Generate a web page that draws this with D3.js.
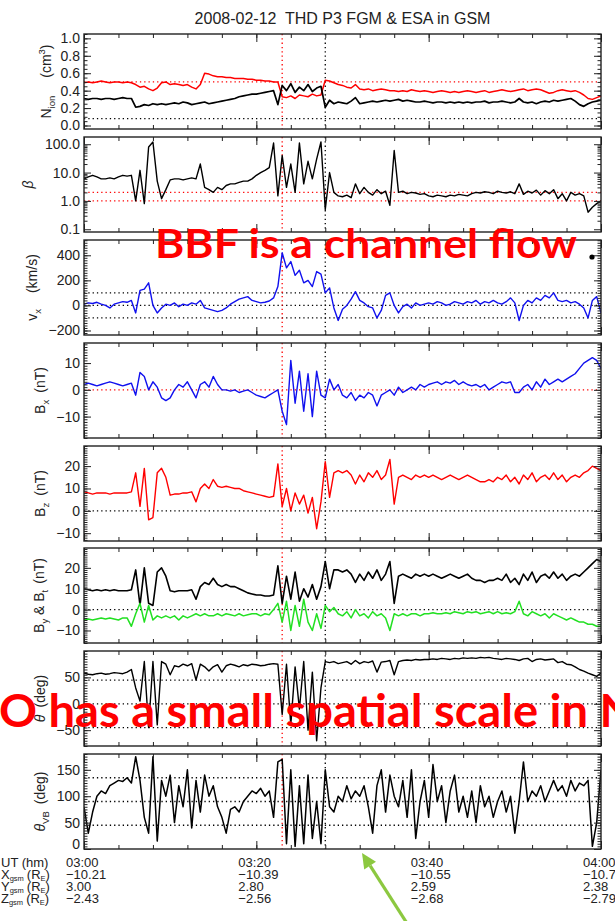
<!DOCTYPE html>
<html><head><meta charset="utf-8">
<script src="https://cdn.jsdelivr.net/npm/d3@7"></script>
<style>body{margin:0;background:#fff;} svg{display:block;font-family:"Liberation Sans",Arial,sans-serif;}</style>
</head><body><svg id="c" width="615" height="921"></svg>
<script>
// ---------- data (one sample per 0.5 min from 03:00) ----------
const sampleMin = d3.range(0, 60.001, 0.5);
const nRed = [
0.49,0.50,0.49,0.50,0.51,0.50,0.49,0.50,0.50,0.49,
0.50,0.49,0.47,0.44,0.45,0.42,0.40,0.43,0.49,0.50,
0.47,0.48,0.47,0.46,0.47,0.44,0.42,0.47,0.60,0.59,
0.57,0.56,0.56,0.55,0.55,0.54,0.54,0.54,0.53,0.53,
0.52,0.52,0.51,0.51,0.50,0.50,0.33,0.32,0.34,0.31,
0.35,0.34,0.33,0.36,0.34,0.35,0.52,0.51,0.49,0.47,
0.46,0.44,0.43,0.47,0.42,0.41,0.42,0.40,0.41,0.42,
0.41,0.40,0.40,0.39,0.40,0.39,0.41,0.40,0.39,0.40,
0.39,0.38,0.39,0.40,0.39,0.38,0.39,0.38,0.39,0.40,
0.39,0.38,0.39,0.40,0.38,0.39,0.40,0.41,0.40,0.39,
0.40,0.41,0.42,0.40,0.41,0.42,0.41,0.39,0.37,0.38,
0.40,0.41,0.40,0.39,0.40,0.38,0.35,0.31,0.30,0.32,
0.34];
const nBlack = [
0.31,0.30,0.31,0.31,0.30,0.31,0.31,0.30,0.31,0.32,
0.31,0.31,0.21,0.22,0.24,0.23,0.25,0.24,0.25,0.24,
0.25,0.26,0.25,0.27,0.26,0.24,0.25,0.26,0.27,0.25,
0.26,0.27,0.28,0.29,0.30,0.31,0.33,0.34,0.35,0.36,
0.36,0.37,0.38,0.39,0.40,0.24,0.46,0.40,0.48,0.38,
0.44,0.40,0.47,0.39,0.43,0.45,0.21,0.29,0.25,0.27,
0.26,0.25,0.28,0.32,0.25,0.26,0.27,0.28,0.27,0.28,
0.29,0.28,0.29,0.30,0.28,0.29,0.28,0.27,0.27,0.28,
0.27,0.26,0.27,0.27,0.26,0.27,0.26,0.27,0.26,0.27,
0.26,0.27,0.27,0.28,0.26,0.27,0.27,0.28,0.27,0.26,
0.27,0.31,0.27,0.26,0.27,0.25,0.27,0.28,0.27,0.29,
0.28,0.29,0.30,0.31,0.28,0.24,0.22,0.25,0.27,0.28,
0.29];
const beta = [
6,7,8,7,6,6,6.5,6,7,8,
7.5,8,1.0,12,0.8,80,120,5,1.2,2.5,
5.5,6,6,5.5,6,6.5,6,20,3,2.5,
2,3,2.5,3.5,4,4,4.5,5,5,6,
8,10,12,15,110,1.5,40,3,20,2,
110,4,25,6,30,120,0.5,10,2,1.5,
1.4,1.6,1.3,4,1.8,3,2,1.6,2.5,1.8,
2.2,0.7,60,2,2.2,1.8,2,1.9,1.7,1.8,
1.5,1.4,1.6,1.5,1.4,1.6,1.5,1.7,1.6,1.5,
1.8,2,1.9,2.1,2,1.8,2.2,2,1.9,2.1,
1.8,4,1.7,2.2,1.9,2.4,1.6,2.3,1.8,2.5,
1.2,1.8,1.0,2,1.6,1.8,1.5,0.4,0.6,0.8,
1.0];
const vx = [
10,20,15,25,10,0,-20,10,20,30,
25,40,-60,120,130,180,0,-60,-20,10,
0,20,-10,10,0,20,10,40,-20,-30,
-40,-50,-40,-20,10,30,50,60,70,40,
30,20,25,35,60,150,420,300,350,240,
280,180,200,150,270,250,100,140,-20,-120,
-30,0,50,110,40,20,-10,-20,-100,-40,
80,100,0,-60,-10,10,-20,20,0,10,
20,10,30,20,0,10,30,20,10,30,
20,40,10,30,20,40,20,10,30,60,
20,-120,0,40,20,60,40,80,60,100,
40,30,40,20,30,10,-20,-100,40,70,
-60];
const bx = [
2,2.5,2,1.5,2,2.5,3,2.5,2,1.5,
2,2.5,-2,6.5,5,0,3,1,-3,-4,
-3,0,2,1,3,0,-3,2,3,1,
5,2,0,0,-0.5,0,-1,-0.5,0,-1,
-2,-2.5,-3,-2,-1,0,-8,-13,11,-5,
7,-8,6,-10,7,-2,-3,4,0,2,
-2,-3,-1,-4,-2,-3,-1,-2,-6,-2,
-1,0,-2,1,-1,0,1,0,2,1,
2,2.5,3,2,3,2.5,3.5,2,3,2,
1.5,2,1,2,0,1,2,3,2.5,3,
-1,-1,1,2,0,3,1,4,2,3,
4,3,4,5,6,8,10,11,12,11,
8];
const bz = [
8.5,8,7.5,8,8,8,7.5,8,8,8,
8,8.5,17,2,19,-4,-3,17,19,15,
7,7.5,7.5,8,8,8.5,4,10,12,10,
14,11,10.5,11,10.5,10,10,9,8.5,8,
7.5,7,6.5,6,6.5,21,2,10,0,8,
3,7,-1,6,-8,4,22,6,17,18,
17,18,16,12,16,13,17,15,18,14,
16,23,3,15,16,15,14,16,15,16,
15,16,15,14,15,16,15,14,15,16,
15,14,13,13,14,13,15,14,16,13,
15,12,16,14,17,13,15,16,14,17,
14,16,13,15,16,15,17,18,20,19,
18];
const bt = [
10,9.5,9,9.5,9,9.5,9,9.5,9,9,
9,9.5,19,2,20,3,2,18,20,16,
9,8.5,9,9,9,9.5,5,11,13,12,
15,12,11,12,11,11,10,9,8,7.5,
7,7,6.5,6.5,7,21,3,16,5,18,
4,10,6,12,5,11,23,10,19,19,
18,19,17,13,17,14,18,15,19,14,
17,23,3,16,17,16,15,17,16,17,
16,17,16,15,16,17,16,15,16,17,
15,14,14,13,14,14,15,14,17,13,
15,12,17,14,18,13,16,17,15,18,
15,17,14,16,17,16,18,20,22,24,
23];
const by = [
-5,-4.5,-5,-4.5,-4,-4.5,-4,-4.5,-5,-4,
-4,-8,-2,3,-6,2,-5,-3,-4,-3,
-4,-3,-5,-3,-4,-3,-2,-3,-2,-3,
-3,-2,-3,-2,-2.5,-3,-2,-3,-2.5,-2,
-2,-3,-2,-2.5,0,3,-6,4,-10,2,
-8,5,-6,-10,-2,-9,2,-1,1,-2,
-3,-1,-4,0,-3,-2,-4,-1,-3,-2,
-4,-10,-2,-3,-2,-3,-2,-2,-3,-2,
-2,-1.5,-2,-2,-1.5,-2,-1,-1.5,-2,-1,
-1.5,-1,-2,-1.5,-1,-2,-1,-2,-1.5,-2,
-1,4,-2,-3,-1,-2,-3,-2,-4,-2,
-3,-4,-5,-4,-5,-6,-6,-7,-7,-8,
-8];
const theta = [
58,56,55,57,58,56,57,59,58,57,
60,65,30,5,80,-45,80,-40,80,75,
55,72,70,75,72,76,45,75,70,62,
70,74,60,72,75,73,70,74,72,75,
74,72,73,75,76,75,-20,75,-40,70,
-10,80,-50,60,-70,30,80,78,80,76,
78,80,75,82,76,80,78,81,60,79,
80,82,55,80,82,83,82,84,83,84,
84,85,84,86,85,84,86,85,87,86,
87,86,88,87,88,86,85,84,86,85,
84,82,85,86,80,84,85,83,84,85,
78,80,75,74,70,65,62,58,55,52,
58];
const thetaVB = [
80,30,70,100,110,105,120,125,130,128,
135,125,175,130,60,30,175,15,130,100,
140,50,120,80,150,40,130,70,140,100,
120,80,60,30,75,80,70,90,100,110,
105,115,100,110,60,165,170,10,150,5,
120,10,140,20,90,10,150,80,70,100,
90,120,95,110,100,120,80,30,120,150,
70,140,100,80,130,60,150,20,90,130,
60,160,90,120,50,110,140,70,100,60,
110,50,120,80,100,60,90,110,70,100,
30,90,165,90,110,100,120,90,110,130,
110,120,100,130,110,125,120,130,5,50,
150];
const eventMin = [23, 28];
const utTickMin = [0, 20, 40, 60];
const utLabels = ["03:00","03:20","03:40","04:00"];
const xgsm = ["\u221210.21","\u221210.39","\u221210.55","\u221210.71"];
const ygsm = ["3.00","2.80","2.59","2.38"];
const zgsm = ["\u22122.43","\u22122.56","\u22122.68","\u22122.79"];

// ---------- layout ----------
const svg = d3.select("#c");
const defs = svg.append("defs");
const X0 = 84, X1 = 601, PH = 95;
const tops = [34,137,240,343,446,548,651,754];
const x = d3.scaleLinear().domain([0,60]).range([X0,X1]);
const RED = "#ff0000", BLUE = "#1010ee", GREEN = "#22e022";
const f1 = d3.format(".1f"), f0 = d3.format("d");
const rng = (a,b,s) => d3.range(Math.round(a/s), Math.round(b/s)+1).map(k => +(k*s).toFixed(6));

const panels = [
 {domain:[-0.04,1.05], ticks:[0,0.2,0.4,0.6,0.8,1.0], fmt:f1, minor:rng(0,1.05,0.05),
  series:[[nRed,RED,1.5],[nBlack,"#000",1.7]], hl:[[0.5,RED],[0.08,"#000"]],
  label:[["N"],["ion","sub"],["(cm",null,18],["3","sup"],[")"]], lx:46},
 {log:true, domain:[0.08,180], ticks:[0.1,1,10,100], fmt:f1,
  minor:[0.2,0.3,0.4,0.5,0.6,0.7,0.8,0.9,2,3,4,5,6,7,8,9,20,30,40,50,60,70,80,90],
  series:[[beta,"#000",1.4]], hl:[[1,RED],[2,RED]], label:[["\u03b2","it"]], lx:28},
 {domain:[-236,522], ticks:[-200,0,200,400], fmt:f0, minor:rng(-220,520,20),
  series:[[vx,BLUE,1.4]], hl:[[100,"#000"],[0,"#000"],[-100,"#000"]],
  label:[["v"],["x","sub"],["(km/s)",null,16]], lx:32},
 {domain:[-18,17.5], ticks:[-10,0,10], fmt:f0, minor:rng(-18,17,1),
  series:[[bx,BLUE,1.4]], hl:[[0,RED]], label:[["B"],["x","sub"],["(nT)",null,7]], lx:40},
 {domain:[-13.5,29], ticks:[-10,0,10,20], fmt:f0, minor:rng(-13,29,1),
  series:[[bz,RED,1.4]], hl:[[0,"#000"]], label:[["B"],["z","sub"],["(nT)",null,7]], lx:40},
 {domain:[-16,29.5], ticks:[-10,0,10,20], fmt:f0, minor:rng(-16,29,1),
  series:[[bt,"#000",1.6],[by,GREEN,1.5]], hl:[[0,"#000"]],
  label:[["B"],["y","sub"],[" & B"],["t","sub"],["(nT)",null,6]], lx:39},
 {domain:[-80,100], ticks:[-50,0,50], fmt:f0, minor:rng(-80,100,5),
  series:[[theta,"#000",1.4]], hl:[[45,"#000"],[0,"#000"],[-45,"#000"]],
  label:[["\u03b8","it"],["(deg)",null,7]], lx:40},
 {domain:[0,180], ticks:[0,50,100,150], fmt:f0, minor:rng(0,180,5),
  series:[[thetaVB,"#000",1.5]], hl:[[45,"#000"],[90,"#000"],[135,"#000"]],
  label:[["\u03b8","it"],["VB","sub"],["(deg)",null,7]], lx:40}
];

// title
svg.append("text").attr("x",(X0+X1)/2).attr("y",24).attr("text-anchor","middle")
  .attr("font-size",16).attr("fill","#222").style("white-space","pre")
  .text("2008-02-12  THD P3 FGM & ESA in GSM");

function rotLabel(cx, cy, parts){
  const t = svg.append("text").attr("transform",`translate(${cx+5},${cy}) rotate(-90)`)
    .attr("text-anchor","middle").attr("font-size",14).attr("fill","#222");
  let shift = 0;
  parts.forEach(([s,k,dx]) => {
    const ts = t.append("tspan").text(s);
    let target = 0;
    if (k === "sub") { ts.attr("font-size",9.5); target = 4; }
    else if (k === "sup") { ts.attr("font-size",9.5); target = -6; }
    else if (k === "it") { ts.attr("font-style","italic"); }
    ts.attr("dy", target - shift); shift = target;
    if (dx) ts.attr("dx", dx);
  });
}

panels.forEach((p, i) => {
  const top = tops[i];
  const y = (p.log ? d3.scaleLog() : d3.scaleLinear()).domain(p.domain).range([top+PH, top]);
  defs.append("clipPath").attr("id","cp"+i).append("rect")
    .attr("x",X0).attr("y",top).attr("width",X1-X0).attr("height",PH);
  const plot = svg.append("g").attr("clip-path",`url(#cp${i})`);
  p.hl.forEach(([v,c]) => plot.append("line").attr("x1",X0).attr("x2",X1)
    .attr("y1",y(v)).attr("y2",y(v)).attr("stroke",c).attr("stroke-width",1.3)
    .attr("stroke-dasharray","1.3,3"));
  eventMin.forEach((t,k) => plot.append("line").attr("x1",x(t)).attr("x2",x(t))
    .attr("y1",top).attr("y2",top+PH).attr("stroke",k===0?RED:"#000").attr("stroke-width",1.3)
    .attr("stroke-dasharray","1.3,3"));
  const line = d3.line().x((d,j) => x(sampleMin[j])).y(d => y(d));
  p.series.forEach(([data,color,w]) => plot.append("path").datum(data).attr("d",line)
    .attr("fill","none").attr("stroke",color).attr("stroke-width",w).attr("stroke-linejoin","round"));

  const ax = (axis, tx, ty) => svg.append("g").attr("transform",`translate(${tx},${ty})`)
    .call(axis).call(g => g.select(".domain").remove())
    .call(g => g.selectAll("line").attr("stroke","#222"))
    .call(g => g.selectAll("text").attr("font-size",14).attr("fill","#222")
      .attr("font-family","Liberation Sans, Arial, sans-serif"));
  // x ticks
  ax(d3.axisBottom(x).tickValues(utTickMin).tickSize(-8).tickFormat(""), 0, top+PH);
  ax(d3.axisBottom(x).tickValues(rng(0,60,4)).tickSize(-4).tickFormat(""), 0, top+PH);
  ax(d3.axisTop(x).tickValues(utTickMin).tickSize(-8).tickFormat(""), 0, top);
  ax(d3.axisTop(x).tickValues(rng(0,60,4)).tickSize(-4).tickFormat(""), 0, top);
  // y ticks
  const yl = ax(d3.axisLeft(y).tickValues(p.ticks).tickSize(-7).tickPadding(4).tickFormat(p.fmt), X0, 0);
  if (i === 7) yl.selectAll("text").filter(d => d === 0).attr("dy","-0.05em");
  ax(d3.axisLeft(y).tickValues(p.minor).tickSize(-3.5).tickFormat(""), X0, 0);
  ax(d3.axisRight(y).tickValues(p.ticks).tickSize(-7).tickFormat(""), X1, 0);
  ax(d3.axisRight(y).tickValues(p.minor).tickSize(-3.5).tickFormat(""), X1, 0);
  svg.append("rect").attr("x",X0).attr("y",top).attr("width",X1-X0).attr("height",PH)
    .attr("fill","none").attr("stroke","#222").attr("stroke-width",1.4);
  rotLabel(p.lx, top + PH/2, p.label);
});

// bottom annotation table
const rowY = [867, 879, 891, 903];
const rowVals = [utLabels, xgsm, ygsm, zgsm];
const rowNames = ["X","Y","Z"];
rowY.forEach((ry, r) => {
  const t = svg.append("text").attr("x",1).attr("y",ry).attr("font-size",13).attr("fill","#222");
  if (r === 0) t.text("UT (hm)");
  else {
    t.append("tspan").text(rowNames[r-1]);
    t.append("tspan").text("gsm").attr("font-size",7.5).attr("dy",2);
    t.append("tspan").text("(R").attr("dy",-2).attr("dx",3);
    t.append("tspan").text("E").attr("font-size",7.5).attr("dy",2);
    t.append("tspan").text(")").attr("dy",-2);
  }
  rowVals[r].forEach((v,k) => svg.append("text").attr("x",x(utTickMin[k])-18).attr("y",ry)
    .attr("font-size",13).attr("fill","#222").text(v));
});

// overlaid slide annotations
svg.append("text").attr("x",155).attr("y",258).attr("font-family","Lato, 'Open Sans', sans-serif")
  .attr("font-weight",700).attr("font-size",41).attr("fill","#ff0000")
  .attr("textLength",422).attr("lengthAdjust","spacingAndGlyphs").text("BBF is a channel flow");
svg.append("circle").attr("cx",592).attr("cy",257).attr("r",2.6).attr("fill","#000");
svg.append("text").attr("x",-1).attr("y",727).attr("font-family","Lato, 'Open Sans', sans-serif")
  .attr("font-weight",700).attr("font-size",46).attr("fill","#ff0000")
  .attr("textLength",664).attr("lengthAdjust","spacingAndGlyphs")
  .text("O has a small spatial scale in NE");

// green arrow
const aFrom = [410, 928], aTo = [362, 853];
const ang = Math.atan2(aTo[1]-aFrom[1], aTo[0]-aFrom[0]);
const hl = 15, hw = 7;
const base = [aTo[0]-hl*Math.cos(ang), aTo[1]-hl*Math.sin(ang)];
svg.append("line").attr("x1",aFrom[0]).attr("y1",aFrom[1]).attr("x2",base[0]).attr("y2",base[1])
  .attr("stroke","#8cc840").attr("stroke-width",3.2);
svg.append("path").attr("fill","#8cc840").attr("d", d3.line()([
  aTo,
  [base[0]+hw*Math.sin(ang), base[1]-hw*Math.cos(ang)],
  [base[0]-hw*Math.sin(ang), base[1]+hw*Math.cos(ang)]
]) + "Z");
</script>
</body></html>
